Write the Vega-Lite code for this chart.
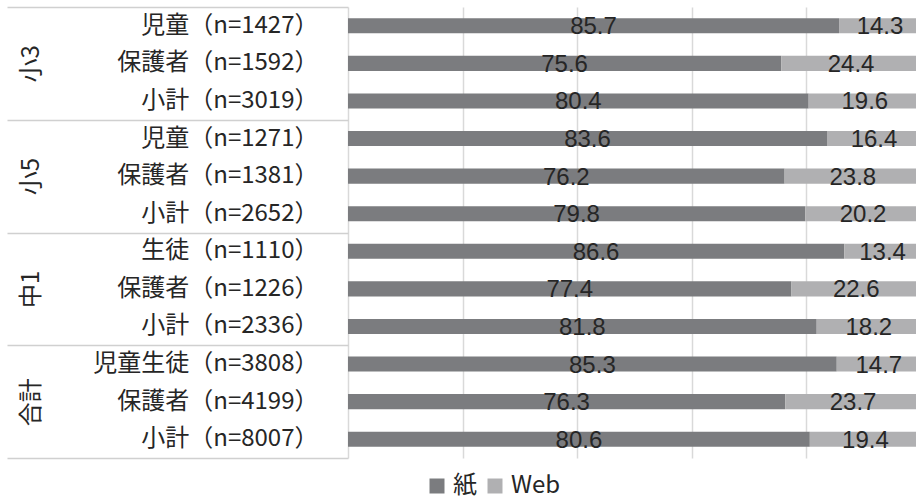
{
  "$schema": "https://vega.github.io/schema/vega-lite/v6.json",
  "autosize": {"type": "none"},
  "padding": {"left": 348, "top": 7, "right": 0, "bottom": 41},
  "width": 568,
  "height": 451,
  "background": "white",
  "config": {"view": {"stroke": null}},
  "data": {
    "values": [
      {"group": "小3", "label": "児童（n=1427）", "紙": 85.7, "Web": 14.3},
      {"group": "小3", "label": "保護者（n=1592）", "紙": 75.6, "Web": 24.4},
      {"group": "小3", "label": "小計（n=3019）", "紙": 80.4, "Web": 19.6},
      {"group": "小5", "label": "児童（n=1271）", "紙": 83.6, "Web": 16.4},
      {"group": "小5", "label": "保護者（n=1381）", "紙": 76.2, "Web": 23.8},
      {"group": "小5", "label": "小計（n=2652）", "紙": 79.8, "Web": 20.2},
      {"group": "中1", "label": "生徒（n=1110）", "紙": 86.6, "Web": 13.4},
      {"group": "中1", "label": "保護者（n=1226）", "紙": 77.4, "Web": 22.6},
      {"group": "中1", "label": "小計（n=2336）", "紙": 81.8, "Web": 18.2},
      {"group": "合計", "label": "児童生徒（n=3808）", "紙": 85.3, "Web": 14.7},
      {"group": "合計", "label": "保護者（n=4199）", "紙": 76.3, "Web": 23.7},
      {"group": "合計", "label": "小計（n=8007）", "紙": 80.6, "Web": 19.4}
    ]
  },
  "layer": [
    {
      "transform": [{"fold": ["紙", "Web"], "as": ["key", "value"]}],
      "mark": {"type": "bar", "clip": true},
      "encoding": {
        "y": {
          "field": "label", "type": "nominal", "sort": null,
          "scale": {"paddingInner": 0.6, "paddingOuter": 0.3},
          "axis": {
            "title": null, "ticks": false, "grid": false,
            "domain": true, "domainColor": "#d9d9d9", "domainWidth": 1.5,
            "labelFont": "Noto Sans CJK JP", "labelFontSize": 24, "labelColor": "#262626",
            "labelPadding": 30, "labelLimit": 0
          }
        },
        "x": {
          "field": "value", "type": "quantitative", "stack": "zero",
          "scale": {"domain": [0, 99.13], "nice": false},
          "axis": {
            "title": null, "values": [20, 40, 60, 80], "labels": false, "ticks": false,
            "domain": false, "grid": true, "gridColor": "#d9d9d9", "gridWidth": 1.5
          }
        },
        "color": {
          "field": "key", "type": "nominal",
          "scale": {"domain": ["紙", "Web"], "range": ["#7b7c7f", "#b0b0b2"]},
          "legend": {
            "title": null, "orient": "none", "legendX": 77, "legendY": 467,
            "direction": "horizontal", "symbolType": "square", "symbolSize": 225,
            "symbolStrokeWidth": 0, "labelFont": "Noto Sans CJK JP", "labelFontSize": 24,
            "labelColor": "#262626", "labelOffset": 4, "columnPadding": 6
          }
        },
        "order": {"field": "key", "sort": "descending"}
      }
    },
    {
      "transform": [{"fold": ["紙", "Web"], "as": ["key", "value"]}],
      "mark": {"type": "text", "font": "Liberation Sans", "fontSize": 24, "color": "#262626", "dy": 1.5},
      "encoding": {
        "y": {"field": "label", "type": "nominal", "sort": null},
        "x": {"field": "value", "type": "quantitative", "stack": "zero", "bandPosition": 0.5},
        "detail": {"field": "key"},
        "order": {"field": "key", "sort": "descending"},
        "text": {"field": "value", "type": "quantitative", "format": ".1f"}
      }
    },
    {
      "mark": {"type": "rule", "opacity": 0},
      "encoding": {
        "y": {
          "field": "group", "type": "nominal", "sort": null,
          "scale": {"paddingInner": 0, "paddingOuter": 0},
          "axis": {
            "title": null, "orient": "left", "grid": false, "domain": false,
            "ticks": true, "tickBand": "extent", "tickSize": 341,
            "tickColor": "#d0d0d0", "tickWidth": 1.5,
            "labelAngle": -90, "labelAlign": "center", "labelBaseline": "middle",
            "labelPadding": -24, "labelLimit": 0,
            "labelFont": "Noto Sans CJK JP", "labelFontSize": 24, "labelColor": "#262626"
          }
        }
      }
    }
  ],
  "resolve": {"scale": {"y": "independent"}, "axis": {"y": "independent"}}
}
